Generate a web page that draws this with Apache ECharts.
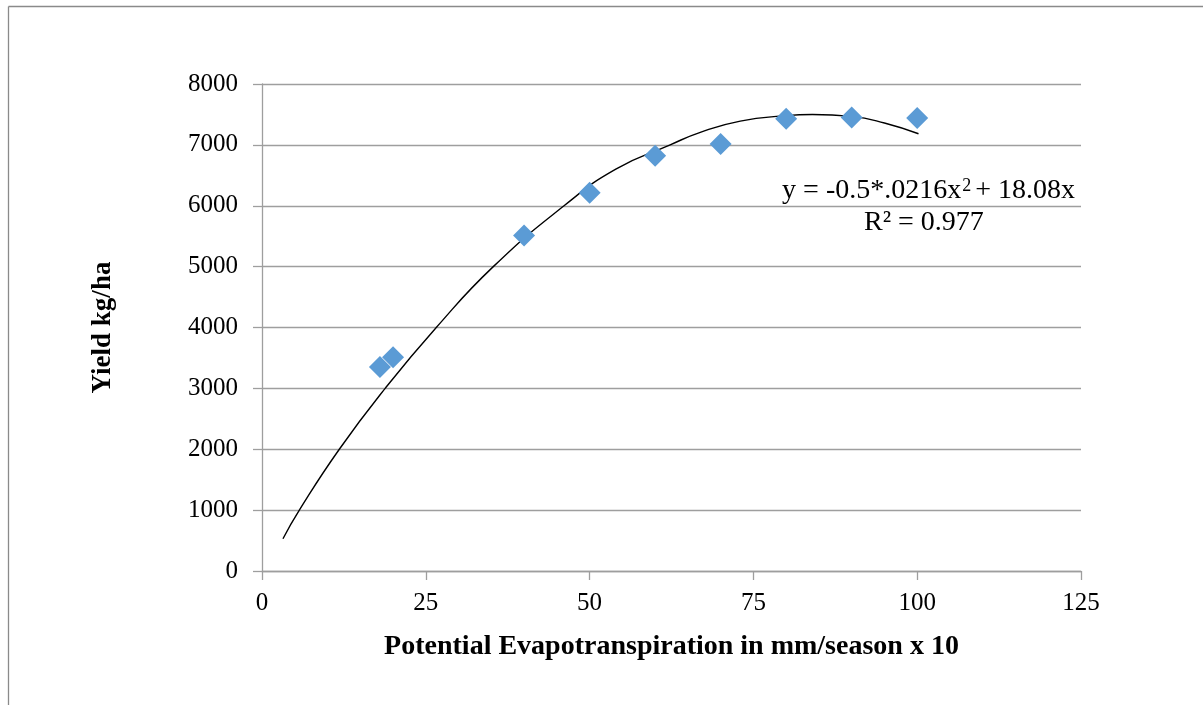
<!DOCTYPE html>
<html><head><meta charset="utf-8">
<script src="https://cdn.jsdelivr.net/npm/echarts@6/dist/echarts.min.js"></script>
<style>html,body{margin:0;padding:0;background:#fff}#c{width:1203px;height:705px}</style>
</head><body><div id="c"></div>
<script>
const pointX = [18, 20, 40, 50, 60, 70, 80, 90, 100];
const pointY = [3350, 3510, 5510, 6215, 6820, 7015, 7430, 7450, 7440];
const trendX = [3.2, 5.7, 11.8, 18.8, 26.6, 35.3, 46.1, 54, 62.3, 67, 73, 80, 84, 90, 95, 100.2];
const trendY = [530, 1000, 2000, 3000, 4000, 5000, 6000, 6600, 7000, 7210, 7390, 7480, 7500, 7468, 7360, 7183];
const xTicks = [0, 25, 50, 75, 100, 125];
const yTicks = [0, 1000, 2000, 3000, 4000, 5000, 6000, 7000, 8000];

const chart = echarts.init(document.getElementById('c'), null, {renderer: 'canvas'});
const font = '"Liberation Serif", "Times New Roman", serif';
chart.setOption({
  animation: false,
  backgroundColor: '#fff',
  grid: {left: 262, right: 122, top: 84, bottom: 134, containLabel: false},
  xAxis: {
    type: 'value', min: xTicks[0], max: xTicks[xTicks.length-1], interval: 25,
    name: 'Potential Evapotranspiration in mm/season x 10', nameLocation: 'middle', nameGap: 62,
    nameTextStyle: {fontFamily: font, fontWeight: 'bold', fontSize: 28, color: '#000'},
    axisLine: {show: true, lineStyle: {color: '#9e9e9e', width: 1.3}},
    axisTick: {show: true, inside: false, length: 9, lineStyle: {color: '#9e9e9e', width: 1.3}},
    axisLabel: {fontFamily: font, fontSize: 25, color: '#000', margin: 20, formatter: v => String(v)},
    splitLine: {show: false}
  },
  yAxis: {
    type: 'value', min: yTicks[0], max: yTicks[yTicks.length-1], interval: 1000,
    name: 'Yield kg/ha', nameLocation: 'middle', nameGap: 145, nameRotate: 90,
    nameTextStyle: {fontFamily: font, fontWeight: 'bold', fontSize: 27, color: '#000'},
    axisLine: {show: true, lineStyle: {color: '#9e9e9e', width: 1.3}},
    axisTick: {show: true, inside: false, length: 9, lineStyle: {color: '#9e9e9e', width: 1.3}},
    axisLabel: {fontFamily: font, fontSize: 25, color: '#000', margin: 24, formatter: v => String(v)},
    splitLine: {show: true, lineStyle: {color: '#9e9e9e', width: 1.3}}
  },
  series: [
    {
      type: 'line', data: trendX.map((x, i) => [x, trendY[i]]), smooth: 0.5,
      showSymbol: false, symbol: 'none',
      lineStyle: {color: '#000', width: 1.4}, z: 2
    },
    {
      type: 'scatter', data: pointX.map((x, i) => [x, pointY[i]]),
      symbol: 'diamond', symbolSize: 22,
      itemStyle: {color: '#5b9bd5', opacity: 1}, z: 3
    }
  ],
  graphic: [
    {type: 'line', shape: {x1: 8.5, y1: 6.5, x2: 1203, y2: 6.5}, style: {stroke: '#8a8a8a', lineWidth: 1.3}},
    {type: 'line', shape: {x1: 8.5, y1: 6.5, x2: 8.5, y2: 705}, style: {stroke: '#8a8a8a', lineWidth: 1.3}},
    {type: 'text', right: 128, top: 177, style: {
      text: '{a|y = -0.5*.0216x}{s|2}{a|+ 18.08x}',
      rich: {
        a: {fontFamily: font, fontSize: 28, fill: '#000'},
        s: {fontFamily: font, fontSize: 18, fill: '#000', verticalAlign: 'top', padding: [0,4,10,1]}
      }
    }},
    {type: 'text', left: 864, top: 209, style: {
      text: 'R² = 0.977', fontFamily: font, fontSize: 28, fill: '#000'
    }}
  ]
});
</script></body></html>
